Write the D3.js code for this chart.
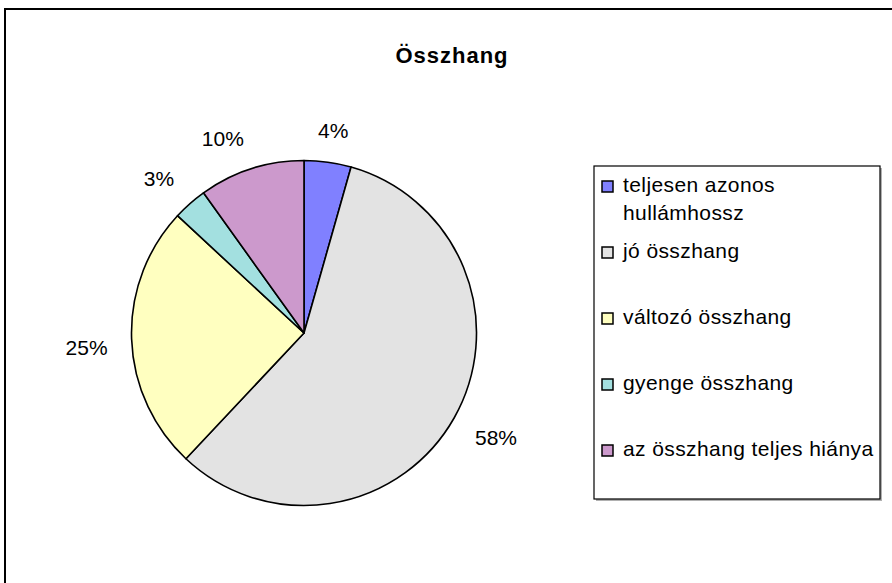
<!DOCTYPE html>
<html>
<head>
<meta charset="utf-8">
<script src="https://cdn.jsdelivr.net/npm/d3@7/dist/d3.min.js"></script>
<style>
  html, body { margin: 0; padding: 0; background: #fff; }
  svg { display: block; }
  text { font-family: "Liberation Sans", Arial, sans-serif; fill: #000; }
</style>
</head>
<body>
<svg id="chart" width="892" height="583"></svg>
<script>
const title = "Összhang";
const categories = ["teljesen azonos hullámhossz", "jó összhang", "változó összhang", "gyenge összhang", "az összhang teljes hiánya"];
const legendLines = [["teljesen azonos", "hullámhossz"], ["jó összhang"], ["változó összhang"], ["gyenge összhang"], ["az összhang teljes hiánya"]];
const values = [4.4, 57.6, 24.9, 3.2, 9.9];
const colors = ["#8080FF", "#E3E3E3", "#FFFFC0", "#A3E0E0", "#CC99CC"];

const svg = d3.select("#chart");
const W = 892, H = 583;

// outer frame (top and left edges visible)
svg.append("path")
  .attr("d", `M5,${H + 5} L5,9 L${W + 5},9`)
  .attr("fill", "none").attr("stroke", "#000").attr("stroke-width", 2);

svg.append("text")
  .attr("x", 452).attr("y", 63)
  .attr("text-anchor", "middle")
  .style("font-size", "22px").style("font-weight", "bold").style("letter-spacing", "1px")
  .text(title);

const cx = 304, cy = 333, R = 172.5;
const total = d3.sum(values);
const pie = d3.pie().sort(null).value(d => d).startAngle(0).endAngle(2 * Math.PI);
const arcs = pie(values);
const arc = d3.arc().innerRadius(0).outerRadius(R);
const color = d3.scaleOrdinal().domain(categories).range(colors);

const g = svg.append("g").attr("transform", `translate(${cx},${cy})`);
g.selectAll("path.slice").data(arcs).enter().append("path")
  .attr("class", "slice")
  .attr("d", arc)
  .attr("fill", (d, i) => color(categories[i]))
  .attr("stroke", "#000").attr("stroke-width", 1.6).attr("stroke-linejoin", "round");

// percentage labels outside (box corner nearest the pie sits on an outer circle)
const fs = 21;
const labelR = R + 24;
g.selectAll("text.pct").data(arcs).enter().append("text")
  .attr("class", "pct")
  .style("font-size", fs + "px")
  .attr("text-anchor", "middle")
  .text(d => Math.round(d.value / total * 100) + "%")
  .each(function(d) {
    const t = d3.select(this);
    const w = this.getComputedTextLength();
    const h = 15;
    const a = (d.startAngle + d.endAngle) / 2;
    const s = Math.sin(a), c = Math.cos(a);
    const ax = labelR * s, ay = -labelR * c;
    const x = Math.abs(s) > 0.2 ? ax + Math.sign(s) * w / 2 : ax + s * w / 2;
    const y = c > 0 ? ay : ay + h;
    t.attr("x", x).attr("y", y);
  });

// legend
const lx = 594, ly = 166, lw = 286, lh = 333;
svg.append("rect").attr("x", lx + 2).attr("y", ly + 2).attr("width", lw).attr("height", lh).attr("fill", "#b0b0b0");
svg.append("rect").attr("x", lx).attr("y", ly).attr("width", lw).attr("height", lh)
  .attr("fill", "#fff").attr("stroke", "#000").attr("stroke-width", 1.2);

const yLeg = d3.scaleLinear().domain([0, categories.length - 1]).range([192, 456]);
const items = svg.selectAll("g.leg").data(categories).enter().append("g")
  .attr("class", "leg")
  .attr("transform", (d, i) => `translate(0,${yLeg(i)})`);
items.append("rect")
  .attr("x", 602).attr("y", -11).attr("width", 11).attr("height", 11)
  .attr("fill", d => color(d)).attr("stroke", "#000").attr("stroke-width", 1.5);
items.append("text")
  .style("font-size", fs + "px").style("letter-spacing", "0.4px")
  .attr("x", 623).attr("y", 0)
  .each(function(d, i) {
    const t = d3.select(this);
    legendLines[i].forEach((ln, j) => {
      t.append("tspan").attr("x", 623).attr("dy", j === 0 ? 0 : 28).text(ln);
    });
  });
</script>
</body>
</html>
